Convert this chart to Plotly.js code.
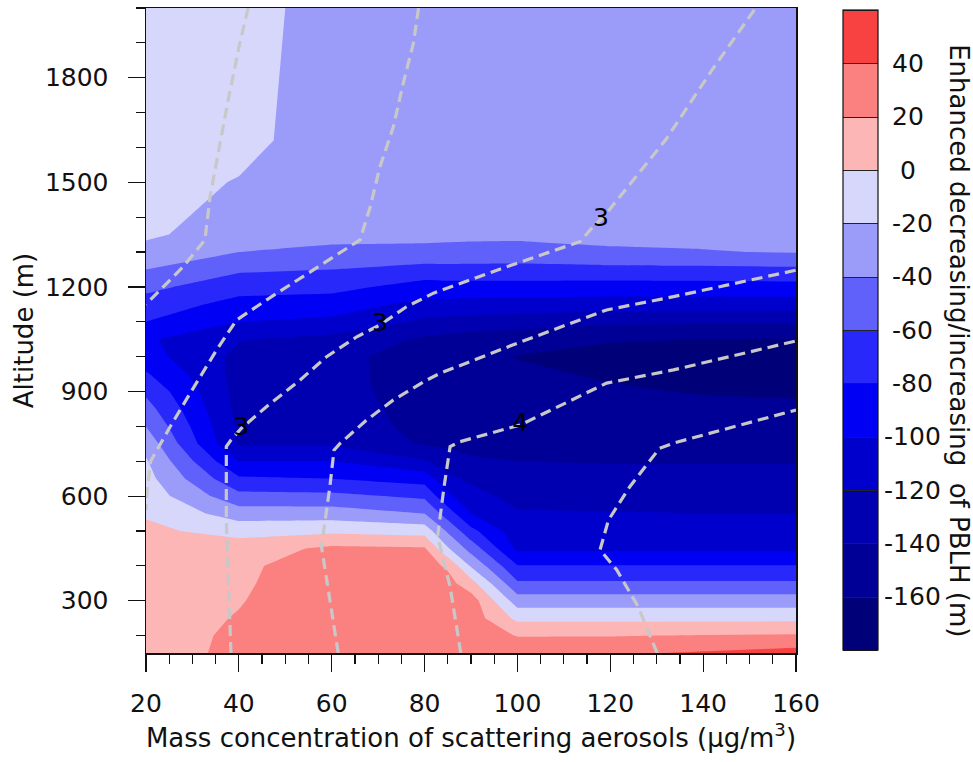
<!DOCTYPE html>
<html>
<head>
<meta charset="utf-8">
<script src="https://cdn.plot.ly/plotly-3.0.1.min.js"></script>
<style>
html,body{margin:0;padding:0;background:#ffffff;}
#chart{width:973px;height:762px;}
</style>
</head>
<body>
<div id="chart"></div>
<script>
// ---------------- DATA ----------------
// x grid: mass concentration of scattering aerosols (ug/m3)
const massConc = [20, 40, 60, 80, 85, 90, 100, 120, 140, 160];
// y grid: altitude (m)
const altitude = [150, 200, 250, 300, 350, 400, 450, 500, 550, 600, 650, 700, 750, 800, 850, 900, 950, 1000, 1050, 1100, 1150, 1200, 1250, 1300, 1350, 1500, 1620, 2000];

// Enhanced decreasing/increasing of PBLH (m), one column per concentration
const pblh20  = [12, 12, 12, 11, 10, 9, 7, 4, -2, -8, -13, -18, -27, -40, -52, -64, -78, -92, -97, -80, -68, -55, -40, -26, -17, -13, -13, -12];
const pblh40  = [24, 23, 21, 19, 17, 14, 10, -7, -30, -54, -77, -100, -122, -124, -126, -127, -127, -125, -119, -100, -87, -72, -57, -40, -29, -21, -14, -12];
const pblh60  = [30, 31, 32, 32, 33, 36, 24, -4, -30, -55, -80, -100, -123, -134, -135, -136, -136, -136, -126, -104, -90, -74, -60, -43, -36, -32, -30, -28];
const pblh80  = [32, 32, 31, 30, 29, 28, 22, -8, -40, -64, -88, -118, -142, -143, -144, -145, -146, -146, -143, -124, -106, -88, -68, -44, -36, -33, -31, -30];
const pblh85  = [32, 32, 31, 30, 27, 17, -18, -43, -70, -96, -115, -131, -143, -145, -147, -148, -149, -150, -146, -126, -106, -87, -67, -45, -36, -33, -31, -30];
const pblh90  = [33, 32, 31, 30, 8, -22, -48, -74, -100, -112, -124, -137, -146, -148, -150, -152, -153, -155, -149, -128, -107, -87, -67, -46, -36, -33, -32, -31];
const pblh100 = [34, 19, -5, -30, -57, -79, -104, -112, -118, -127, -134, -140, -146, -150, -153, -155, -157, -160.5, -154, -130, -108, -87, -67, -47, -36, -33, -32, -31];
const pblh120 = [37, 19, -5, -30, -57, -79, -104, -111, -119, -127, -134, -141, -147, -151, -155, -158, -162, -164, -159, -136, -110, -88, -66, -42, -36, -33, -32, -31];
const pblh140 = [42, 21, -5, -30, -57, -79, -104, -111, -120, -127, -134, -141, -147, -152, -156, -161, -166, -169, -160, -137, -110, -88, -65, -41, -35, -33, -32, -31];
const pblh160 = [48, 22, -5, -30, -57, -79, -104, -111, -120, -127, -134, -141, -147, -152, -157, -162, -168, -172, -161, -138, -110, -87, -64, -39, -34, -32, -31, -30];

// contour levels of the filled field and colorbar tick labels
const levelStart = -180, levelEnd = 60, levelStep = 20;
const cbTicks = [-160, -140, -120, -100, -80, -60, -40, -20, 0, 20, 40];
const bandColors = ['#000078', '#000096', '#0000b0', '#0000cd', '#0000f5', '#2828fa',
                    '#6060fa', '#9b9bfa', '#d7d7fc', '#fcb6b6', '#fb8181', '#f84242'];

// grey dashed overlay contour lines (x = concentration, y = altitude)
const line1X = [42.0, 40.2, 37.7, 35.6, 33.8, 32.7, 28.0, 20.0];
const line1Y = [2000, 1899, 1736, 1593, 1459, 1335, 1258, 1150];
const line2X = [78.7, 77.6, 75.4, 73.3, 70.4, 68.3, 66.1, 56.0, 46.0, 39.5, 35.2, 29.5, 25.2, 21.0, 20.3, 20.0];
const line2Y = [2000, 1899, 1784, 1660, 1545, 1430, 1335, 1249, 1163, 1105, 1019, 895, 799, 700, 620, 560];
const line3X = [38.3, 37.8, 37.3, 37.3, 38.3, 40.5, 46.0, 53.2, 58.9, 65.4, 70.4, 76.1, 81.9, 89.8, 97.7, 113.5, 116.3, 118.5, 132.1, 141.7, 151.3];
const line3Y = [150, 340, 531, 742, 761, 794, 857, 933, 1000, 1057, 1091, 1143, 1182, 1220, 1258, 1330, 1373, 1400, 1625, 1818, 2000];
const line4X = [61.4, 59.2, 57.8, 59.6, 60.5, 61.8, 67.5, 73.3, 80.5, 83.3, 99.1, 119.2, 133.6, 160];
const line4Y = [150, 340, 455, 627, 732, 751, 818, 876, 933, 952, 1034, 1134, 1172, 1248];
const line5X = [87.8, 85.5, 82.8, 84.2, 85.5, 87.6, 100.6, 119.2, 133.6, 160];
const line5Y = [150, 340, 484, 627, 742, 756, 804, 924, 962, 1045];
const line6X = [130.1, 126.0, 121.4, 117.8, 119.6, 124.2, 130.6, 133.6, 160];
const line6Y = [150, 283, 388, 446, 531, 627, 737, 752, 847];

// labels on the dashed lines
const labelX = [40.5, 70.4, 118.0, 100.6];
const labelY = [794, 1091, 1392, 804];
const labelText = ['3', '3', '3', '4'];

// ---------------- BUILD ----------------
const columns = [pblh20, pblh40, pblh60, pblh80, pblh85, pblh90, pblh100, pblh120, pblh140, pblh160];
const zGrid = altitude.map((_, i) => columns.map(col => col[i]));

const nBands = bandColors.length;
const stepScale = [];
bandColors.forEach((c, i) => {
  stepScale.push([i / nBands, c]);
  stepScale.push([(i + 1) / nBands, c]);
});

// pad colorbar labels on the left so they look centred like the original
function centredLabel(v) {
  const s = String(v);
  if (s.length === 1) return '\u2007' + s;        // "0"
  if (s.length === 2) return '\u00a0' + s;        // "20", "40"
  if (s.length === 3) return '\u00a0' + s;        // "-20" ... "-80"
  return s;                                        // "-100" ... "-160"
}

const FONT = 'DejaVu Sans, Arial, sans-serif';
const INK = '#111111';

const fillTrace = {
  type: 'contour',
  x: massConc, y: altitude, z: zGrid,
  zmin: levelStart, zmax: levelEnd,
  autocontour: false,
  contours: {start: levelStart, end: levelEnd, size: levelStep, coloring: 'fill', showlines: false},
  colorscale: stepScale,
  line: {width: 0, smoothing: 0},
  showscale: false,
  hoverinfo: 'skip'
};

// same field on a hidden off-range axis pair: only provides the colorbar with separators
const barTrace = {
  type: 'contour',
  x: massConc, y: altitude, z: zGrid,
  xaxis: 'x2', yaxis: 'y2',
  zmin: levelStart, zmax: levelEnd,
  autocontour: false,
  contours: {start: levelStart, end: levelEnd, size: levelStep, coloring: 'fill', showlines: true},
  colorscale: stepScale,
  line: {width: 1, color: '#222222'},
  showscale: true,
  hoverinfo: 'skip',
  colorbar: {
    thickness: 35, thicknessmode: 'pixels',
    len: 640 / 645, lenmode: 'fraction',
    x: 1.0723, xanchor: 'left', xpad: 0,
    y: 0.5008, yanchor: 'middle', ypad: 0,
    outlinecolor: INK, outlinewidth: 1.2,
    tickmode: 'array', tickvals: cbTicks, ticktext: cbTicks.map(centredLabel),
    ticks: '', ticklen: 0,
    tickfont: {family: FONT, size: 25, color: INK}
  }
};

const dashStyle = {color: '#c8c8c8', width: 3.2, dash: '11px,6px'};
const lineTraces = [[line1X, line1Y], [line2X, line2Y], [line3X, line3Y], [line4X, line4Y], [line5X, line5Y], [line6X, line6Y]]
  .map(([lx, ly]) => ({
    type: 'scatter', mode: 'lines', x: lx, y: ly,
    line: dashStyle, hoverinfo: 'skip', showlegend: false
  }));

const labelTrace = {
  type: 'scatter', mode: 'text',
  x: labelX, y: labelY, text: labelText,
  textposition: 'middle center',
  textfont: {family: FONT, size: 25, color: '#000000'},
  hoverinfo: 'skip', showlegend: false
};

const layout = {
  width: 973, height: 762,
  margin: {l: 146, r: 177, t: 8, b: 109, autoexpand: false},
  paper_bgcolor: '#ffffff', plot_bgcolor: '#ffffff',
  showlegend: false,
  hovermode: false,
  font: {family: FONT, color: INK},
  xaxis: {
    range: [20, 160], tick0: 20, dtick: 20,
    ticks: 'outside', ticklen: 17, tickwidth: 1.2, tickcolor: INK,
    showline: true, linecolor: INK, linewidth: 1.5, mirror: true,
    showgrid: false, zeroline: false,
    minor: {tick0: 20, dtick: 5, ticks: 'outside', ticklen: 9, tickwidth: 1.2, tickcolor: INK, showgrid: false},
    tickfont: {family: FONT, size: 25, color: INK},
    ticklabelstandoff: 10,
    title: {text: 'Mass concentration of scattering aerosols (μg/m<sup>3</sup>)', font: {family: FONT, size: 26, color: INK}, standoff: 12}
  },
  yaxis: {
    range: [150, 2000], tick0: 0, dtick: 300,
    ticks: 'outside', ticklen: 17, tickwidth: 1.2, tickcolor: INK,
    showline: true, linecolor: INK, linewidth: 1.5, mirror: true,
    showgrid: false, zeroline: false,
    minor: {tick0: 0, dtick: 100, ticks: 'outside', ticklen: 9, tickwidth: 1.2, tickcolor: INK, showgrid: false},
    tickfont: {family: FONT, size: 25, color: INK},
    ticklabelstandoff: 14,
    title: {text: 'Altitude (m)', font: {family: FONT, size: 26, color: INK}, standoff: 4}
  },
  xaxis2: {overlaying: 'x', range: [1000, 1001], visible: false, fixedrange: true},
  yaxis2: {overlaying: 'y', range: [9000, 9001], visible: false, fixedrange: true},
  annotations: [{
    text: 'Enhanced decreasing/increasing\u00a0 of PBLH (m)',
    xref: 'paper', yref: 'paper', x: 1.2508, y: 0.485,
    xanchor: 'center', yanchor: 'middle',
    textangle: 90, showarrow: false,
    font: {family: FONT, size: 26, color: INK}
  }]
};

Plotly.newPlot('chart', [fillTrace, barTrace].concat(lineTraces, [labelTrace]), layout, {displayModeBar: false, staticPlot: true});
</script>
</body>
</html>
